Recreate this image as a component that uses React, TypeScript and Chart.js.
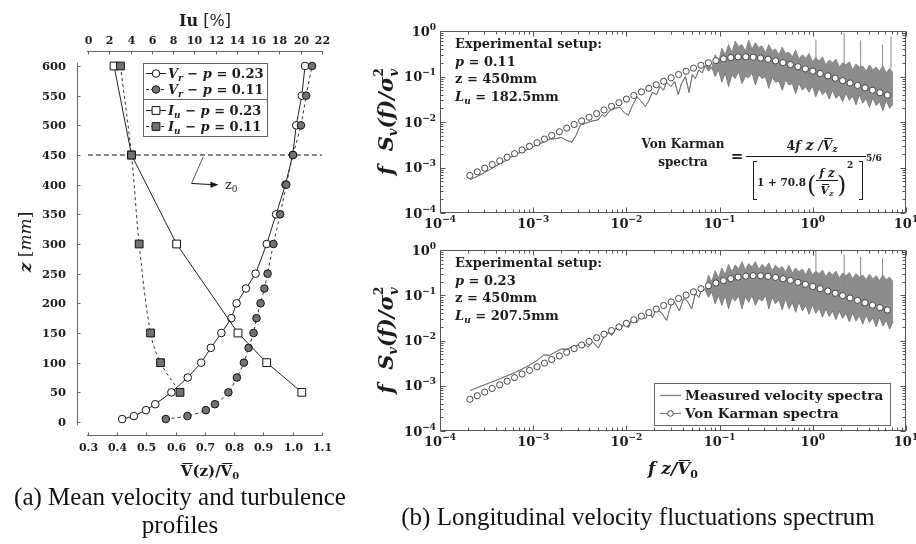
import React, { useEffect, useRef } from "react";
import { Chart, registerables } from "chart.js";

Chart.register(...registerables);

// ================= (a) mean velocity & turbulence profiles =================
const vrZ = [5, 10, 20, 30, 50, 75, 100, 125, 150, 175, 200, 225, 250, 300, 350, 400, 450, 500, 550, 600];
const vrP023 = [0.417, 0.457, 0.498, 0.53, 0.585, 0.641, 0.687, 0.72, 0.756, 0.79, 0.808, 0.84, 0.873, 0.911, 0.943, 0.975, 1.0, 1.012, 1.031, 1.042];
const vrP011 = [0.566, 0.64, 0.703, 0.734, 0.78, 0.809, 0.833, 0.849, 0.866, 0.876, 0.89, 0.903, 0.914, 0.934, 0.957, 0.978, 1.001, 1.028, 1.046, 1.066];
const iuZ = [600, 450, 300, 150, 100, 50];
const iuP023 = [2.45, 4.09, 8.33, 14.1, 16.8, 20.1];
const iuP011 = [3.05, 4.09, 4.81, 5.88, 6.82, 8.65];
const refLineV = [0.3, 1.1];
const refLineZ = [450, 450];
const zTicks = [0, 50, 100, 150, 200, 250, 300, 350, 400, 450, 500, 550, 600];
const vTicks = [0.3, 0.4, 0.5, 0.6, 0.7, 0.8, 0.9, 1.0, 1.1];
const iuTicks = [0, 2, 4, 6, 8, 10, 12, 14, 16, 18, 20, 22];

// ================= (b) spectra =================
const decades = [-4, -3, -2, -1, 0, 1];
const vkX = [2.09e-4, 2.51e-4, 3.02e-4, 3.63e-4, 4.37e-4, 5.25e-4, 6.31e-4, 7.59e-4, 9.12e-4, 1.1e-3,
  1.32e-3, 1.58e-3, 1.91e-3, 2.29e-3, 2.75e-3, 3.31e-3, 3.98e-3, 4.79e-3, 5.75e-3, 6.92e-3,
  8.32e-3, 1.0e-2, 1.2e-2, 1.45e-2, 1.74e-2, 2.09e-2, 2.51e-2, 3.02e-2, 3.63e-2, 4.37e-2,
  5.25e-2, 6.31e-2, 7.59e-2, 9.12e-2, 0.11, 0.132, 0.158, 0.191, 0.229, 0.275,
  0.331, 0.398, 0.479, 0.575, 0.692, 0.832, 1.0, 1.2, 1.45, 1.74,
  2.09, 2.51, 3.02, 3.63, 4.37, 5.25, 6.31];
const vkTop = [6.69e-4, 8.04e-4, 9.66e-4, 1.16e-3, 1.4e-3, 1.68e-3, 2.02e-3, 2.43e-3, 2.92e-3, 3.51e-3,
  4.22e-3, 5.07e-3, 6.1e-3, 7.33e-3, 8.81e-3, 1.059e-2, 1.272e-2, 1.529e-2, 1.838e-2, 2.21e-2,
  2.655e-2, 3.188e-2, 3.826e-2, 4.588e-2, 5.498e-2, 6.577e-2, 7.851e-2, 9.343e-2, 0.1107, 0.1304,
  0.1523, 0.1759, 0.2001, 0.2236, 0.2442, 0.26, 0.2692, 0.2711, 0.2659, 0.2546,
  0.239, 0.2211, 0.2018, 0.1827, 0.1642, 0.1469, 0.131, 0.1165, 0.1034, 0.0917,
  0.0812, 0.072, 0.0637, 0.0564, 0.0499, 0.0441, 0.039];
const vkBot = [5.01e-4, 6.03e-4, 7.25e-4, 8.71e-4, 1.047e-3, 1.259e-3, 1.514e-3, 1.82e-3, 2.188e-3, 2.631e-3,
  3.163e-3, 3.803e-3, 4.572e-3, 5.497e-3, 6.609e-3, 7.946e-3, 9.554e-3, 1.148e-2, 1.38e-2, 1.659e-2,
  1.994e-2, 2.395e-2, 2.876e-2, 3.453e-2, 4.143e-2, 4.968e-2, 5.948e-2, 7.108e-2, 8.479e-2, 0.1007,
  0.119, 0.1397, 0.1624, 0.1865, 0.2107, 0.2331, 0.2518, 0.2649, 0.2709, 0.2695,
  0.2615, 0.2482, 0.2314, 0.2128, 0.1934, 0.1745, 0.1564, 0.1397, 0.1244, 0.1106,
  0.0981, 0.087, 0.077, 0.0682, 0.0604, 0.0534, 0.0473];

const measTopLowX = [2.1e-4, 2.6e-4, 3.3e-4, 4.2e-4, 5.2e-4, 6.4e-4, 8.0e-4, 1.0e-3, 1.25e-3, 1.5e-3,
  1.75e-3, 2.0e-3, 2.3e-3, 2.6e-3, 2.9e-3, 3.2e-3, 3.7e-3, 4.3e-3, 4.9e-3, 5.5e-3,
  5.9e-3, 6.5e-3, 7.5e-3, 8.5e-3, 9.5e-3, 1.05e-2, 1.15e-2, 1.3e-2, 1.45e-2, 1.6e-2,
  1.75e-2, 1.9e-2, 2.1e-2, 2.3e-2, 2.5e-2, 2.7e-2, 3.0e-2, 3.3e-2, 3.6e-2, 3.9e-2,
  4.3e-2, 4.7e-2, 5.1e-2, 5.5e-2, 6.0e-2, 6.5e-2, 7.0e-2];
const measTopLowY = [5.4e-4, 6.6e-4, 8.6e-4, 1.15e-3, 1.45e-3, 1.95e-3, 2.3e-3, 2.9e-3, 3.5e-3, 4.2e-3,
  4.3e-3, 4.6e-3, 3.9e-3, 3.6e-3, 5.2e-3, 8.5e-3, 9.5e-3, 1.05e-2, 1.1e-2, 1.45e-2,
  1.3e-2, 1.7e-2, 2.0e-2, 2.1e-2, 1.6e-2, 1.4e-2, 2.2e-2, 3.6e-2, 2.8e-2, 2.2e-2,
  3.0e-2, 4.5e-2, 4.0e-2, 6.0e-2, 5.0e-2, 7.5e-2, 6.0e-2, 7.8e-2, 4.0e-2, 7.0e-2,
  0.1, 4.5e-2, 0.11, 9.0e-2, 0.14, 0.12, 0.17];
const measBotLowX = [2.1e-4, 3.0e-4, 4.5e-4, 6.5e-4, 9.0e-4, 1.1e-3, 1.3e-3, 1.5e-3, 1.8e-3, 2.0e-3,
  2.3e-3, 2.7e-3, 3.1e-3, 3.5e-3, 3.9e-3, 4.3e-3, 5.0e-3, 5.6e-3, 6.3e-3, 7.0e-3,
  7.8e-3, 8.5e-3, 9.5e-3, 1.05e-2, 1.15e-2, 1.3e-2, 1.45e-2, 1.6e-2, 1.75e-2, 1.9e-2,
  2.1e-2, 2.4e-2, 2.7e-2, 3.0e-2, 3.3e-2, 3.7e-2, 4.1e-2, 4.5e-2, 5.0e-2, 5.5e-2,
  6.0e-2, 6.5e-2, 7.0e-2];
const measBotLowY = [7.8e-4, 1.05e-3, 1.45e-3, 2.0e-3, 2.8e-3, 3.6e-3, 4.8e-3, 4.7e-3, 5.8e-3, 6.5e-3,
  6.4e-3, 7.5e-3, 8.0e-3, 8.4e-3, 7.2e-3, 9.5e-3, 6.8e-3, 1.1e-2, 1.5e-2, 1.3e-2,
  1.9e-2, 1.7e-2, 2.4e-2, 1.9e-2, 3.0e-2, 2.5e-2, 3.8e-2, 3.0e-2, 4.5e-2, 3.2e-2,
  5.0e-2, 4.0e-2, 2.8e-2, 6.0e-2, 7.0e-2, 4.5e-2, 8.5e-2, 7.5e-2, 5.0e-2, 0.11,
  9.0e-2, 0.15, 0.13];

const bandX = [0.0759, 0.0824, 0.0895, 0.0973, 0.1057, 0.1148, 0.1247, 0.1355, 0.1472, 0.16,
  0.1738, 0.1888, 0.2051, 0.2228, 0.2421, 0.263, 0.2858, 0.3105, 0.3373, 0.3664,
  0.3981, 0.4325, 0.4699, 0.5105, 0.5546, 0.6026, 0.6546, 0.7112, 0.7727, 0.8395,
  0.912, 0.9908, 1.076, 1.169, 1.271, 1.38, 1.5, 1.629, 1.77, 1.923,
  2.089, 2.27, 2.466, 2.679, 2.911, 3.162, 3.436, 3.733, 4.055, 4.406,
  4.786, 5.2, 5.649, 6.138, 6.668, 7.244];
const topBandHi = [0.19, 0.15, 0.3, 0.2, 0.42, 0.3, 0.5, 0.33, 0.6, 0.45,
  0.5, 0.36, 0.62, 0.4, 0.55, 0.43, 0.47, 0.33, 0.5, 0.36,
  0.4, 0.3, 0.44, 0.32, 0.34, 0.27, 0.38, 0.24, 0.3, 0.25,
  0.32, 0.21, 0.26, 0.22, 0.27, 0.18, 0.23, 0.2, 0.24, 0.16,
  0.2, 0.18, 0.21, 0.14, 0.19, 0.16, 0.17, 0.13, 0.18, 0.14,
  0.16, 0.13, 0.17, 0.12, 0.15, 0.12];
const topBandLo = [0.13, 0.16, 0.1, 0.14, 0.075, 0.12, 0.06, 0.11, 0.09, 0.13,
  0.07, 0.1, 0.095, 0.12, 0.065, 0.11, 0.09, 0.1, 0.055, 0.095,
  0.075, 0.08, 0.05, 0.085, 0.065, 0.07, 0.042, 0.072, 0.05, 0.06,
  0.045, 0.062, 0.036, 0.055, 0.04, 0.048, 0.032, 0.05, 0.033, 0.04,
  0.028, 0.043, 0.03, 0.037, 0.024, 0.04, 0.026, 0.033, 0.021, 0.034,
  0.023, 0.028, 0.018, 0.03, 0.02, 0.025];
const botBandHi = [0.28, 0.2, 0.35, 0.24, 0.4, 0.28, 0.48, 0.33, 0.47, 0.38,
  0.55, 0.36, 0.5, 0.42, 0.56, 0.37, 0.48, 0.4, 0.52, 0.35,
  0.46, 0.38, 0.43, 0.32, 0.46, 0.31, 0.4, 0.33, 0.38, 0.28,
  0.4, 0.28, 0.34, 0.3, 0.36, 0.26, 0.33, 0.28, 0.34, 0.24,
  0.31, 0.27, 0.32, 0.23, 0.3, 0.25, 0.28, 0.22, 0.29, 0.23,
  0.27, 0.21, 0.28, 0.22, 0.25, 0.2];
const botBandLo = [0.09, 0.12, 0.065, 0.1, 0.06, 0.1, 0.05, 0.09, 0.075, 0.1,
  0.05, 0.095, 0.07, 0.1, 0.06, 0.085, 0.075, 0.1, 0.05, 0.09,
  0.065, 0.08, 0.048, 0.085, 0.05, 0.07, 0.042, 0.072, 0.045, 0.06,
  0.038, 0.062, 0.04, 0.052, 0.033, 0.05, 0.034, 0.045, 0.029, 0.045,
  0.031, 0.04, 0.026, 0.041, 0.027, 0.036, 0.023, 0.037, 0.025, 0.032,
  0.02, 0.033, 0.021, 0.028, 0.018, 0.026];
const topSpikeX = [1.08, 2.17, 3.26, 5.6, 6.9];
const topSpikeY = [0.65, 0.9, 0.62, 0.5, 0.75];
const botSpikeX = [1.08, 2.17, 3.26, 5.6];
const botSpikeY = [0.98, 0.8, 0.7, 0.65];
const spikeBase = 0.15;

// ================= drawing helpers =================
const W = 916;
const H = 544;
const INK = "#1c1c1c";
const GRAYFILL = "#727272";
const SER = '"DejaVu Serif", serif';
const F = (s: number) => `bold ${s}px ${SER}`;
const FI = (s: number) => `italic bold ${s}px ${SER}`;
const FN = (s: number) => `${s}px ${SER}`;
const FNI = (s: number) => `italic ${s}px ${SER}`;

type Seg = { t: string; f: string; dy?: number; over?: boolean; noAdv?: boolean };

function segsWidth(ctx: CanvasRenderingContext2D, segs: Seg[]) {
  let w = 0;
  for (const s of segs) {
    if (s.noAdv) continue;
    ctx.font = s.f;
    w += ctx.measureText(s.t).width;
  }
  return w;
}

function drawSegs(ctx: CanvasRenderingContext2D, segs: Seg[], x: number, y: number, align = "left") {
  const w = segsWidth(ctx, segs);
  let cx = align === "center" ? x - w / 2 : align === "right" ? x - w : x;
  ctx.textAlign = "left";
  ctx.textBaseline = "alphabetic";
  for (const s of segs) {
    ctx.font = s.f;
    const m = ctx.measureText(s.t);
    const yy = y + (s.dy || 0);
    ctx.fillText(s.t, cx, yy);
    if (s.over) {
      const top = Math.round(yy - m.actualBoundingBoxAscent - 2) + 0.5;
      ctx.save();
      ctx.strokeStyle = INK;
      ctx.lineWidth = 1;
      ctx.beginPath();
      ctx.moveTo(cx + 1.5, top);
      ctx.lineTo(cx + m.width, top);
      ctx.stroke();
      ctx.restore();
    }
    if (!s.noAdv) cx += m.width;
  }
  return w;
}

function ln(ctx: CanvasRenderingContext2D, x1: number, y1: number, x2: number, y2: number) {
  ctx.beginPath();
  ctx.moveTo(x1, y1);
  ctx.lineTo(x2, y2);
  ctx.stroke();
}

function marker(ctx: CanvasRenderingContext2D, kind: string, filled: boolean, x: number, y: number) {
  ctx.beginPath();
  if (kind === "circle") ctx.arc(x, y, 3.8, 0, Math.PI * 2);
  else ctx.rect(x - 3.9, y - 3.9, 7.8, 7.8);
  ctx.fillStyle = filled ? GRAYFILL : "#fff";
  ctx.fill();
  ctx.strokeStyle = "#111";
  ctx.lineWidth = 1;
  ctx.stroke();
}

const sup = (d: number) => (d < 0 ? "\u2212" + String(-d) : String(d));

// ================= (a) chart =================
const profilePlugin = {
  id: "profileDecor",
  afterDraw(chart: any) {
    const ctx = chart.ctx as CanvasRenderingContext2D;
    const xs = chart.scales.x;
    const x2 = chart.scales.x2;
    const ys = chart.scales.y;
    const P = (s: any, v: number) => Math.round(s.getPixelForValue(v)) + 0.5;
    ctx.save();
    ctx.strokeStyle = "#666";
    ctx.lineWidth = 1;
    ctx.fillStyle = INK;

    // left axis
    const ax = 77.5;
    ln(ctx, ax, ys.getPixelForValue(600) - 3, ax, ys.getPixelForValue(0) + 3);
    ctx.font = F(11.5);
    ctx.textAlign = "right";
    ctx.textBaseline = "middle";
    for (const v of zTicks) {
      const py = P(ys, v);
      ln(ctx, ax, py, ax + 3, py);
      ctx.fillText(String(v), 66, py + 0.5);
    }
    // bottom axis
    const by = 435.5;
    ln(ctx, xs.getPixelForValue(0.3) - 1, by, xs.getPixelForValue(1.1) + 1, by);
    ctx.font = F(11);
    ctx.textAlign = "center";
    for (const v of vTicks) {
      const px = P(xs, v);
      ln(ctx, px, by, px, by - 3);
      ctx.fillText(v.toFixed(1), px, 448);
    }
    // top axis
    const ty = 51.5;
    ln(ctx, x2.getPixelForValue(0) - 1, ty, x2.getPixelForValue(22) + 1, ty);
    for (const v of iuTicks) {
      const px = P(x2, v);
      ln(ctx, px, ty, px, ty + 3);
      ctx.fillText(String(v), px, 41);
    }

    // axis titles
    ctx.fillStyle = INK;
    drawSegs(ctx, [{ t: "Iu", f: F(16) }, { t: " [%]", f: FN(16) }], 205, 26, "center");
    drawSegs(ctx, [
      { t: "V", f: F(15), over: true },
      { t: "(z)/", f: F(15) },
      { t: "V", f: F(15), over: true },
      { t: "0", f: F(10), dy: 3 },
    ], 210, 476, "center");
    ctx.save();
    ctx.translate(31, 242);
    ctx.rotate(-Math.PI / 2);
    drawSegs(ctx, [
      { t: "z", f: FI(17) },
      { t: " [", f: FN(17) },
      { t: "mm", f: FNI(17) },
      { t: "]", f: FN(17) },
    ], 0, 0, "center");
    ctx.restore();

    // z0 annotation
    ctx.strokeStyle = "#555";
    ln(ctx, xs.getPixelForValue(0.694), ys.getPixelForValue(447), xs.getPixelForValue(0.654), ys.getPixelForValue(402));
    const ax0 = xs.getPixelForValue(0.654);
    const ay0 = ys.getPixelForValue(402);
    const ax1 = xs.getPixelForValue(0.746);
    const ay1 = ys.getPixelForValue(400);
    ctx.strokeStyle = "#111";
    ln(ctx, ax0, ay0, ax1 - 5, ay1);
    ctx.fillStyle = "#111";
    ctx.beginPath();
    ctx.moveTo(ax1, ay1);
    ctx.lineTo(ax1 - 8, ay1 - 3);
    ctx.lineTo(ax1 - 8, ay1 + 3);
    ctx.closePath();
    ctx.fill();
    ctx.fillStyle = INK;
    drawSegs(ctx, [{ t: "z", f: FN(13) }, { t: "0", f: FN(9), dy: 3 }], xs.getPixelForValue(0.768), ay1 + 4, "left");

    // legend
    ctx.strokeStyle = "#666";
    ctx.lineWidth = 1;
    ctx.strokeRect(143.5, 63.5, 124, 73);
    ln(ctx, 143.5, 99.5, 267.5, 99.5);
    const rows = [
      { y: 73, k: "circle", filled: false, dash: false, sym: "V", sub: "r", val: " = 0.23" },
      { y: 89, k: "circle", filled: true, dash: true, sym: "V", sub: "r", val: " = 0.11" },
      { y: 110, k: "square", filled: false, dash: false, sym: "I", sub: "u", val: " = 0.23" },
      { y: 126, k: "square", filled: true, dash: true, sym: "I", sub: "u", val: " = 0.11" },
    ];
    for (const r of rows) {
      ctx.strokeStyle = "#222";
      ctx.lineWidth = 1;
      ctx.setLineDash(r.dash ? [3, 2] : []);
      ln(ctx, 146, r.y + 0.5, 166, r.y + 0.5);
      ctx.setLineDash([]);
      marker(ctx, r.k, r.filled, 156, r.y + 0.5);
      ctx.fillStyle = INK;
      drawSegs(ctx, [
        { t: r.sym, f: FI(13) },
        { t: r.sub, f: FI(9), dy: 3 },
        { t: " \u2212 ", f: F(13) },
        { t: "p", f: FI(13) },
        { t: r.val, f: F(13) },
      ], 168, r.y + 5, "left");
    }
    ctx.restore();
  },
};

function profileConfig(): any {
  const pts = (xs: number[], ys: number[]) => xs.map((x, i) => ({ x, y: ys[i] }));
  return {
    type: "line",
    data: {
      datasets: [
        { data: pts(refLineV, refLineZ), borderColor: "#111", borderWidth: 1, borderDash: [5, 3], pointRadius: 0, order: 6 },
        {
          data: pts(vrP023, vrZ), borderColor: "#222", borderWidth: 1, pointStyle: "circle", pointRadius: 3.8,
          pointBackgroundColor: "#fff", pointBorderColor: "#111", pointBorderWidth: 1, order: 5,
        },
        {
          data: pts(vrP011, vrZ), borderColor: "#333", borderWidth: 1, borderDash: [3, 3], tension: 0.3,
          pointStyle: "circle", pointRadius: 3.8, pointBackgroundColor: GRAYFILL, pointBorderColor: "#111", pointBorderWidth: 1, order: 4,
        },
        {
          data: pts(iuP023, iuZ), xAxisID: "x2", borderColor: "#222", borderWidth: 1, pointStyle: "rect", pointRadius: 5.5,
          pointBackgroundColor: "#fff", pointBorderColor: "#111", pointBorderWidth: 1, order: 3,
        },
        {
          data: pts(iuP011, iuZ), xAxisID: "x2", borderColor: "#333", borderWidth: 1, borderDash: [3, 3], tension: 0.35,
          pointStyle: "rect", pointRadius: 5.5, pointBackgroundColor: GRAYFILL, pointBorderColor: "#111", pointBorderWidth: 1, order: 2,
        },
      ],
    },
    options: {
      responsive: false,
      animation: false,
      devicePixelRatio: 1,
      events: [],
      layout: { padding: { left: 77, right: W - 325, top: 52, bottom: H - 435 } },
      plugins: { legend: { display: false }, tooltip: { enabled: false }, title: { display: false } },
      scales: {
        x: { type: "linear", min: 0.2624, max: 1.1103, display: false },
        x2: { type: "linear", position: "top", min: -1.034, max: 22.28, display: false },
        y: { type: "linear", min: -21.9, max: 623.6, display: false },
      },
    },
    plugins: [profilePlugin],
  };
}

// ================= (b) spectra charts =================
type SpecSpec = {
  id: string;
  top: number;
  bottom: number;
  lowX: number[];
  lowY: number[];
  bandHi: number[];
  bandLo: number[];
  spikeX: number[];
  spikeY: number[];
  vk: number[];
  setup: Seg[][];
  formula: boolean;
  legend: boolean;
};

function drawFormula(ctx: CanvasRenderingContext2D) {
  ctx.fillStyle = INK;
  ctx.strokeStyle = INK;
  ctx.lineWidth = 1;
  ctx.textAlign = "center";
  ctx.textBaseline = "alphabetic";
  ctx.font = F(12);
  ctx.fillText("Von Karman", 683, 148);
  ctx.fillText("spectra", 683, 166);
  ctx.font = F(15);
  ctx.fillText("=", 737, 161);
  ln(ctx, 746, 156.5, 866, 156.5);
  drawSegs(ctx, [
    { t: "4", f: F(12.5) },
    { t: "f", f: FI(12.5) },
    { t: " z", f: FI(14.5) },
    { t: " /", f: FI(12.5) },
    { t: "V", f: FI(12.5), over: true },
    { t: "z", f: FI(9), dy: 2 },
  ], 812, 150, "center");
  ctx.beginPath();
  ctx.moveTo(757, 161.5);
  ctx.lineTo(753.5, 161.5);
  ctx.lineTo(753.5, 199.5);
  ctx.lineTo(757, 199.5);
  ctx.stroke();
  ctx.beginPath();
  ctx.moveTo(859, 161.5);
  ctx.lineTo(862.5, 161.5);
  ctx.lineTo(862.5, 199.5);
  ctx.lineTo(859, 199.5);
  ctx.stroke();
  drawSegs(ctx, [{ t: "1 + 70.8", f: F(10.5) }], 757, 186, "left");
  ctx.font = FN(24);
  ctx.textAlign = "left";
  ctx.fillText("(", 807, 193);
  ctx.fillText(")", 837, 193);
  drawSegs(ctx, [{ t: "f", f: FI(11) }, { t: " z", f: FI(12) }], 827, 177, "center");
  ln(ctx, 816, 180.5, 838, 180.5);
  drawSegs(ctx, [{ t: "V", f: FI(11), over: true }, { t: "z", f: FI(8), dy: 2 }], 827, 194, "center");
  drawSegs(ctx, [{ t: "2", f: F(9) }], 847, 168, "left");
  drawSegs(ctx, [{ t: "5/6", f: F(9) }], 866, 161, "left");
}

function drawSpecLegend(ctx: CanvasRenderingContext2D) {
  ctx.strokeStyle = "#666";
  ctx.lineWidth = 1;
  ctx.strokeRect(654.5, 383.5, 236, 42);
  ctx.strokeStyle = "#777";
  ctx.lineWidth = 1.2;
  ln(ctx, 660, 395.5, 681, 395.5);
  ln(ctx, 660, 413.5, 681, 413.5);
  ctx.beginPath();
  ctx.arc(670.5, 413.5, 2.8, 0, Math.PI * 2);
  ctx.fillStyle = "#fff";
  ctx.fill();
  ctx.strokeStyle = "#333";
  ctx.lineWidth = 0.9;
  ctx.stroke();
  ctx.fillStyle = INK;
  drawSegs(ctx, [{ t: "Measured velocity spectra", f: F(13.5) }], 685, 400, "left");
  drawSegs(ctx, [{ t: "Von Karman spectra", f: F(13.5) }], 685, 418, "left");
}

function spectraPlugin(s: SpecSpec) {
  return {
    id: s.id,
    afterDraw(chart: any) {
      const ctx = chart.ctx as CanvasRenderingContext2D;
      const a = chart.chartArea;
      const xs = chart.scales.x;
      const ys = chart.scales.y;
      ctx.save();
      ctx.strokeStyle = "#555";
      ctx.lineWidth = 1;
      const L = Math.round(a.left) + 0.5;
      const R = Math.round(a.right) - 0.5;
      const T = Math.round(a.top) + 0.5;
      const B = Math.round(a.bottom) - 0.5;
      ctx.strokeRect(L, T, R - L, B - T);
      // ticks
      for (const d of decades) {
        for (let k = 1; k <= 9; k++) {
          const v = k * Math.pow(10, d);
          if (v > 10.0001) break;
          const len = k === 1 ? 5 : 3;
          const px = Math.round(xs.getPixelForValue(v)) + 0.5;
          ln(ctx, px, B, px, B - len);
          ln(ctx, px, T, px, T + len);
          if (v <= 1.0001) {
            const py = Math.round(ys.getPixelForValue(v)) + 0.5;
            ln(ctx, L, py, L + len, py);
            ln(ctx, R, py, R - len, py);
          }
        }
      }
      // labels
      ctx.fillStyle = INK;
      for (const d of decades) {
        const px = xs.getPixelForValue(Math.pow(10, d));
        drawSegs(ctx, [{ t: "10", f: F(13) }, { t: sup(d), f: F(9), dy: -6 }], px, a.bottom + 15, "center");
        if (d <= 0) {
          const py = ys.getPixelForValue(Math.pow(10, d));
          drawSegs(ctx, [{ t: "10", f: F(13) }, { t: sup(d), f: F(9), dy: -6 }], 436, py + 4.5, "right");
        }
      }
      // y title
      ctx.save();
      ctx.translate(386, (a.top + a.bottom) / 2);
      ctx.rotate(-Math.PI / 2);
      drawSegs(ctx, [
        { t: "f", f: FI(21) },
        { t: "  S", f: FI(21) },
        { t: "v", f: FI(13), dy: 4 },
        { t: "(", f: FI(21) },
        { t: "f", f: FI(21) },
        { t: ")", f: FI(21) },
        { t: "/", f: FI(21) },
        { t: "\u03C3", f: FI(21) },
        { t: "2", f: F(12), dy: -10, noAdv: true },
        { t: "v", f: FI(13), dy: 5 },
      ], 0, 7, "center");
      ctx.restore();
      // setup text
      const y0 = a.top + 17;
      s.setup.forEach((segs, i) => drawSegs(ctx, segs, 455, y0 + i * 17.5, "left"));
      if (s.formula) drawFormula(ctx);
      if (s.legend) {
        drawSpecLegend(ctx);
        ctx.fillStyle = INK;
        drawSegs(ctx, [
          { t: "f", f: FI(17) },
          { t: " z", f: FI(17) },
          { t: "/", f: FI(17) },
          { t: "V", f: FI(17), over: true },
          { t: "0", f: F(11), dy: 4 },
        ], 673, 474, "center");
      }
      ctx.restore();
    },
  };
}

function spectraConfig(s: SpecSpec): any {
  const low = s.lowX.map((x, i) => ({ x, y: s.lowY[i] }));
  const hi = [...low, ...bandX.map((x, i) => ({ x, y: s.bandHi[i] }))];
  const lo = [...low, ...bandX.map((x, i) => ({ x, y: s.bandLo[i] }))];
  const spikes: any[] = [];
  s.spikeX.forEach((x, i) => {
    spikes.push({ x, y: spikeBase }, { x, y: s.spikeY[i] }, { x, y: null });
  });
  const vk = vkX.map((x, i) => ({ x, y: s.vk[i] }));
  return {
    type: "line",
    data: {
      datasets: [
        { data: hi, borderColor: "#757575", borderWidth: 0.9, pointRadius: 0, fill: false, order: 4 },
        { data: lo, borderColor: "#757575", borderWidth: 0.9, pointRadius: 0, fill: "-1", backgroundColor: "#8c8c8c", order: 3 },
        { data: spikes, borderColor: "#888", borderWidth: 1, pointRadius: 0, fill: false, spanGaps: false, order: 2 },
        {
          data: vk, showLine: false, pointRadius: 3.1, pointStyle: "circle", pointBackgroundColor: "#fff",
          pointBorderColor: "#333", pointBorderWidth: 0.9, order: 1,
        },
      ],
    },
    options: {
      responsive: false,
      animation: false,
      devicePixelRatio: 1,
      events: [],
      layout: { padding: { left: 440, right: W - 906, top: s.top, bottom: H - s.bottom } },
      plugins: { legend: { display: false }, tooltip: { enabled: false }, title: { display: false } },
      scales: {
        x: { type: "logarithmic", min: 1e-4, max: 10, display: false },
        y: { type: "logarithmic", min: 1e-4, max: 1, display: false },
      },
    },
    plugins: [spectraPlugin(s)],
  };
}

const topSpec: SpecSpec = {
  id: "specTop",
  top: 31,
  bottom: 213,
  lowX: measTopLowX,
  lowY: measTopLowY,
  bandHi: topBandHi,
  bandLo: topBandLo,
  spikeX: topSpikeX,
  spikeY: topSpikeY,
  vk: vkTop,
  setup: [
    [{ t: "Experimental setup:", f: F(13) }],
    [{ t: "p", f: FI(13) }, { t: " = 0.11", f: F(13) }],
    [{ t: "z = 450mm", f: F(13) }],
    [{ t: "L", f: FI(13) }, { t: "u", f: FI(9), dy: 3 }, { t: " = 182.5mm", f: F(13) }],
  ],
  formula: true,
  legend: false,
};

const botSpec: SpecSpec = {
  id: "specBot",
  top: 250,
  bottom: 431,
  lowX: measBotLowX,
  lowY: measBotLowY,
  bandHi: botBandHi,
  bandLo: botBandLo,
  spikeX: botSpikeX,
  spikeY: botSpikeY,
  vk: vkBot,
  setup: [
    [{ t: "Experimental setup:", f: F(13) }],
    [{ t: "p", f: FI(13) }, { t: " = 0.23", f: F(13) }],
    [{ t: "z = 450mm", f: F(13) }],
    [{ t: "L", f: FI(13) }, { t: "u", f: FI(9), dy: 3 }, { t: " = 207.5mm", f: F(13) }],
  ],
  formula: false,
  legend: true,
};

export default function App() {
  const r1 = useRef<HTMLCanvasElement>(null);
  const r2 = useRef<HTMLCanvasElement>(null);
  const r3 = useRef<HTMLCanvasElement>(null);
  useEffect(() => {
    const charts = [
      new Chart(r1.current as HTMLCanvasElement, profileConfig()),
      new Chart(r2.current as HTMLCanvasElement, spectraConfig(topSpec)),
      new Chart(r3.current as HTMLCanvasElement, spectraConfig(botSpec)),
    ];
    return () => charts.forEach((c) => c.destroy());
  }, []);
  const cs: React.CSSProperties = { position: "absolute", left: 0, top: 0, width: W, height: H };
  const cap: React.CSSProperties = {
    position: "absolute",
    textAlign: "center",
    font: '25px "Liberation Serif", "Times New Roman", serif',
    lineHeight: "28px",
    color: "#111",
    whiteSpace: "nowrap",
  };
  return (
    <div style={{ position: "absolute", left: 0, top: 0, width: W, height: H, background: "#fff", overflow: "hidden" }}>
      <canvas ref={r1} width={W} height={H} style={cs} />
      <canvas ref={r2} width={W} height={H} style={cs} />
      <canvas ref={r3} width={W} height={H} style={cs} />
      <div style={{ ...cap, left: 0, width: 360, top: 483 }}>
        (a) Mean velocity and turbulence
        <br />
        profiles
      </div>
      <div style={{ ...cap, left: 338, width: 600, top: 503 }}>(b) Longitudinal velocity fluctuations spectrum</div>
    </div>
  );
}
